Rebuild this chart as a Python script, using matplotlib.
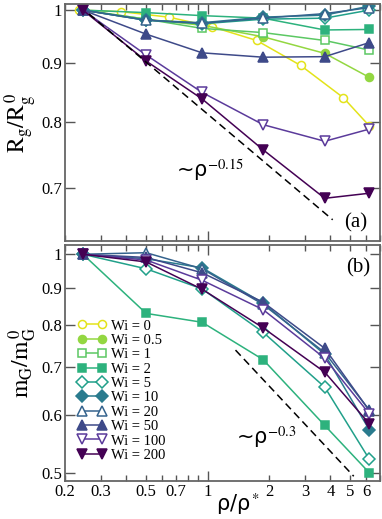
import numpy as np
import matplotlib
matplotlib.use("Agg")
import matplotlib.pyplot as plt
from matplotlib.ticker import FixedLocator, FixedFormatter, NullFormatter

plt.rcParams['font.family'] = ['Liberation Serif', 'DejaVu Serif']
plt.rcParams['mathtext.fontset'] = 'stix'

# --- data ---
wi_labels = ["Wi = 0", "Wi = 0.5", "Wi = 1", "Wi = 2", "Wi = 5",
             "Wi = 10", "Wi = 20", "Wi = 50", "Wi = 100", "Wi = 200"]
colors = ["#e3e31a", "#93d741", "#5cc863", "#2db27d", "#21a08a",
          "#2a7b8e", "#35638d", "#3e4a89", "#5b3b9b", "#440154"]
markers = ["o", "o", "s", "s", "D", "D", "^", "^", "v", "v"]
filled = [False, True, False, True, False, True, False, True, False, True]

rho = [0.245, 0.5, 0.94, 1.87, 3.75, 6.2]
rho_wi0 = [0.234, 0.375, 0.646, 1.055, 1.74, 2.86, 4.63, 6.2]

rg_wi0 = [1.0, 0.997, 0.986, 0.967, 0.941, 0.895, 0.839, 0.793]
rg = {
    "Wi = 0.5": [1.0, 0.982, 0.970, 0.948, 0.917, 0.874],
    "Wi = 1":   [1.0, 0.982, 0.964, 0.956, 0.941, 0.923],
    "Wi = 2":   [1.0, 0.995, 0.989, 0.984, 0.961, 0.962],
    "Wi = 5":   [1.0, 0.980, 0.973, 0.982, 0.984, 1.000],
    "Wi = 10":  [1.0, 0.980, 0.975, 0.986, 0.990, 1.008],
    "Wi = 20":  [1.0, 0.980, 0.974, 0.984, 0.993, 1.005],
    "Wi = 50":  [1.0, 0.953, 0.918, 0.910, 0.911, 0.937],
    "Wi = 100": [1.0, 0.914, 0.848, 0.795, 0.769, 0.788],
    "Wi = 200": [1.0, 0.903, 0.837, 0.756, 0.686, 0.693],
}
mg = {
    "Wi = 2":   [1.0, 0.829, 0.806, 0.716, 0.581, 0.500],
    "Wi = 5":   [1.0, 0.955, 0.896, 0.781, 0.656, 0.522],
    "Wi = 10":  [1.0, 0.986, 0.958, 0.857, 0.728, 0.573],
    "Wi = 20":  [1.0, 1.005, 0.955, 0.853, 0.732, 0.610],
    "Wi = 50":  [1.0, 0.990, 0.943, 0.859, 0.742, 0.609],
    "Wi = 100": [1.0, 0.982, 0.921, 0.839, 0.719, 0.603],
    "Wi = 200": [1.0, 0.976, 0.895, 0.792, 0.688, 0.584],
}

# power-law guides
guide_a_x = [0.262, 4.1]
guide_a_c, guide_a_exp = 0.812, -0.15
guide_b_x = [1.37, 5.2]
guide_b_c, guide_b_exp = 0.811, -0.3

fig = plt.figure(figsize=(3.82, 5.19), dpi=100)
ax1 = fig.add_axes([0.170, 0.536, 0.825, 0.456])
ax2 = fig.add_axes([0.170, 0.073, 0.825, 0.455])


def style(i):
    return dict(color=colors[i], marker=markers[i], lw=1.1,
                ms=6.5 if markers[i] in "^v" else 5.8,
                mfc=colors[i] if filled[i] else "white",
                mec=colors[i], mew=1.1)


handles = []
for i, lab in enumerate(wi_labels):
    if lab == "Wi = 0":
        h, = ax1.plot(rho_wi0, rg_wi0, label=lab, **style(i))
    else:
        h, = ax1.plot(rho, rg[lab], label=lab, **style(i))
    handles.append(h)
    if lab in mg:
        ax2.plot(rho, mg[lab], label=lab, **style(i))

gx = np.array(guide_a_x)
ax1.plot(gx, guide_a_c * gx ** guide_a_exp, "k--", lw=1.1, dashes=(5, 3))
gx = np.array(guide_b_x)
ax2.plot(gx, guide_b_c * gx ** guide_b_exp, "k--", lw=1.1, dashes=(5, 3))

ax1.text(0.70, 0.716, "~ρ$^{-0.15}$", fontsize=15, family=['DejaVu Sans'])
ax2.text(1.37, 0.549, "~ρ$^{-0.3}$", fontsize=15, family=['DejaVu Sans'])
ax1.text(0.96, 0.035, "(a)", transform=ax1.transAxes, ha="right", va="bottom", fontsize=15)
ax2.text(0.968, 0.945, "(b)", transform=ax2.transAxes, ha="right", va="top", fontsize=15)

xminor = [0.2, 0.3, 0.4, 0.5, 0.6, 0.7, 0.8, 0.9, 2, 3, 4, 5, 6, 7]
xminor_labels = ["0.2", "0.3", "", "0.5", "", "0.7", "", "", "2", "3", "4", "5", "6", ""]

for ax, yt, ylim in [(ax1, [0.7, 0.8, 0.9, 1.0], (0.63, 1.012)),
                     (ax2, [0.5, 0.6, 0.7, 0.8, 0.9, 1.0], (0.487, 1.03))]:
    ax.set_xscale("log")
    ax.set_yscale("log")
    ax.set_xlim(0.2, 7.0)
    ax.set_ylim(*ylim)
    ax.xaxis.set_major_locator(FixedLocator([1]))
    ax.xaxis.set_minor_locator(FixedLocator(xminor))
    ax.yaxis.set_major_locator(FixedLocator(yt))
    ax.yaxis.set_minor_locator(FixedLocator([]))
    ax.yaxis.set_major_formatter(FixedFormatter([("%g" % v) for v in yt]))
    ax.yaxis.set_minor_formatter(NullFormatter())
    if ax is ax2:
        ax.xaxis.set_major_formatter(FixedFormatter(["1"]))
        ax.xaxis.set_minor_formatter(FixedFormatter(xminor_labels))
    else:
        ax.xaxis.set_major_formatter(NullFormatter())
        ax.xaxis.set_minor_formatter(NullFormatter())
    ax.tick_params(which="both", direction="in", top=True, right=True,
                   labelsize=12, color="#555555", pad=2)
    ax.tick_params(which="major", length=7, width=1)
    ax.tick_params(which="minor", length=4, width=1)
    for s in ax.spines.values():
        s.set_color("#666666")
        s.set_linewidth(1.3)

ax1.set_ylabel(r"$\mathrm{R_g/R_g^{\,0}}$", fontsize=17, labelpad=2)
ax2.set_ylabel(r"$\mathrm{m_G/m_G^{\,0}}$", fontsize=17, labelpad=2)
# x label sits to the right of the "1" tick label, as in the reference
fig.text(238 / 382, 1 - 517 / 519, "ρ/ρ$^*$", fontsize=15, family=['DejaVu Sans'],
         ha="center", va="bottom")

ax2.legend(handles=handles, loc="upper left", bbox_to_anchor=(0.04, 0.685),
           frameon=False, fontsize=10.5, numpoints=2, handlelength=2.0,
           handletextpad=0.3, labelspacing=0.08, borderpad=0, borderaxespad=0)

fig.savefig("out.png", dpi=100)
